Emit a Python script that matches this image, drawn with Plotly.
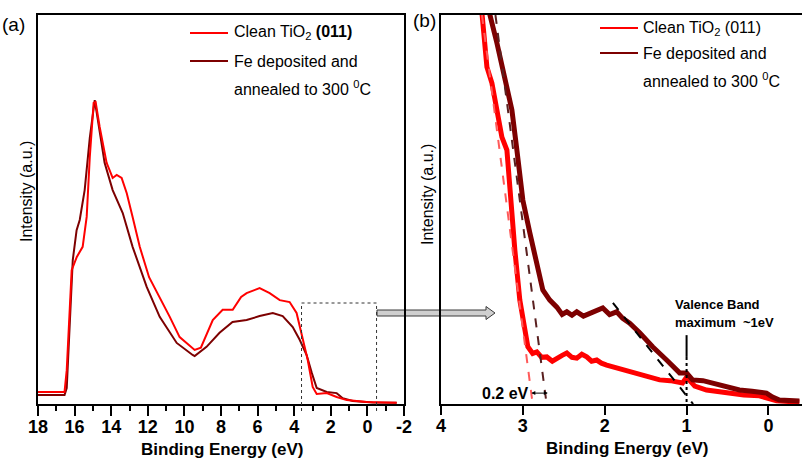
import plotly.graph_objects as go

W, H = 802, 459
FONT = "Liberation Sans, Arial, sans-serif"
RED = "#ff0000"
DARK = "#7d0000"

# ---------------- Panel (a): full valence band spectra ----------------
a_clean_energy = [18.0, 17.0, 16.55, 16.43, 16.16, 15.88, 15.56, 15.34, 15.17, 14.96, 14.85, 14.63,
                  14.25, 13.92, 13.70, 13.43, 13.15, 12.83, 12.44, 11.93, 11.35, 10.80, 10.26, 9.87,
                  9.44, 9.10, 8.79, 8.45, 7.91, 7.36, 6.90, 6.60, 5.89, 5.34, 4.79, 4.25, 3.87, 3.54,
                  3.26, 2.99, 2.77, 2.22, 1.68, 1.13, 0.04, -1.60]
a_clean_int = [3.1, 3.1, 3.1, 8.7, 34.4, 37.8, 40.4, 48.1, 63.5, 77.4, 77.6, 71.2,
               62.0, 58.1, 58.9, 58.1, 54.2, 48.1, 40.4, 32.6, 27.5, 22.4, 17.2, 15.7,
               13.9, 14.5, 17.7, 21.6, 24.2, 24.2, 27.5, 28.5, 29.8, 28.5, 26.7, 26.2, 23.4, 17.2,
               11.3, 4.4, 2.6, 2.8, 1.8, 1.0, 0.5, 0.3]

a_fe_energy = [18.0, 17.0, 16.55, 16.43, 16.27, 16.10, 15.89, 15.72, 15.45, 15.17, 14.90, 14.63,
               14.36, 13.92, 13.37, 12.83, 12.06, 11.35, 10.42, 9.55, 9.44, 8.79, 8.08, 7.37,
               6.60, 5.89, 5.17, 4.63, 4.08, 3.70, 3.32, 3.04, 2.77, 2.22, 1.68, 1.35, 0.80,
               -0.29, -1.60]
a_fe_int = [2.3, 2.3, 2.3, 4.1, 21.6, 37.0, 44.7, 47.3, 55.0, 68.4, 78.1, 69.7,
            62.0, 55.0, 49.1, 40.4, 30.1, 22.4, 15.7, 12.6, 12.3, 14.7, 18.3, 21.1,
            21.6, 22.6, 23.4, 22.6, 19.8, 16.5, 12.6, 8.0, 4.1, 3.1, 2.8, 1.5, 0.8,
            0.4, 0.3]

a_tick_vals = [18, 16, 14, 12, 10, 8, 6, 4, 2, 0, -2]
a_tick_text = ["18", "16", "14", "12", "10", "8", "6", "4", "2", "0", "-2"]

# zoom window marked in panel (a)
zoom_window_energy = [3.6, -0.5]

# ---------------- Panel (b): valence band edge ----------------
b_clean_energy = [3.55, 3.500, 3.439, 3.378, 3.317, 3.256, 3.195, 3.159, 3.098, 3.037, 2.976, 2.939,
                  2.880, 2.829, 2.770, 2.707, 2.640, 2.585, 2.520, 2.463, 2.400, 2.341, 2.280, 2.220,
                  2.160, 2.098, 2.040, 1.976, 1.854, 1.780, 1.695, 1.620, 1.537, 1.430, 1.329, 1.200,
                  1.049, 1.000, 0.900, 0.756, 0.600, 0.439, 0.300, 0.110, 0.000, -0.100, -0.378]
b_clean_int = [112, 100, 86.6, 82.5, 75.6, 68.6, 65.3, 54.2, 39.6, 26.7, 18.3, 14.7,
               13.0, 13.4, 12.0, 12.1, 11.0, 11.8, 12.5, 13.1, 12.0, 11.8, 12.8, 12.1,
               11.0, 11.3, 10.5, 10.0, 9.3, 9.0, 8.2, 8.0, 7.5, 6.8, 6.2, 6.0,
               5.4, 6.9, 4.6, 3.6, 3.1, 2.6, 2.3, 2.1, 1.3, 0.8, 0.5]

b_fe_energy = [3.45, 3.402, 3.317, 3.256, 3.195, 3.134, 3.073, 3.000, 2.915, 2.829, 2.756, 2.671,
               2.585, 2.520, 2.463, 2.400, 2.341, 2.260, 2.183, 2.100, 2.024, 1.940, 1.854, 1.780,
               1.695, 1.573, 1.415, 1.244, 1.085, 1.000, 0.927, 0.800, 0.683, 0.500, 0.354, 0.200,
               0.024, -0.050, -0.134, -0.378]
b_fe_int = [108, 100, 92.8, 86.6, 81.5, 75.6, 65.3, 52.4, 44.0, 35.2, 29.3, 26.7,
            24.9, 23.0, 23.7, 22.8, 23.7, 22.6, 23.4, 24.0, 24.7, 23.0, 23.7, 22.0,
            20.8, 18.3, 14.7, 11.3, 8.0, 8.0, 6.2, 6.0, 5.4, 4.4, 3.6, 3.3,
            2.8, 1.8, 1.0, 0.8]

# linear edge extrapolations
clean_fit_energy = [3.50, 2.88]
clean_fit_int = [100, 0]
fe_fit_energy = [3.335, 2.71]
fe_fit_int = [100, 0]
vbm_fit_energy = [1.90, 0.92]
vbm_fit_int = [26.0, 0]
vbm_marker_energy = [1.0, 1.0]
vbm_marker_solid = [17.7, 12.1]
vbm_marker_dotted = [12.1, 0.5]

b_tick_vals = [4, 3, 2, 1, 0]
b_tick_text = ["4", "3", "2", "1", "0"]

shift_arrow_energy = [2.915, 2.695]
shift_arrow_int = 2.8


def PX(x):
    return x / W


def PY(y):
    return (H - y) / H


fig = go.Figure()

# panel a
fig.add_trace(go.Scatter(x=a_fe_energy, y=a_fe_int, mode="lines",
                         line=dict(color=DARK, width=2), xaxis="x", yaxis="y"))
fig.add_trace(go.Scatter(x=a_clean_energy, y=a_clean_int, mode="lines",
                         line=dict(color=RED, width=2), xaxis="x", yaxis="y"))

# panel b
fig.add_trace(go.Scatter(x=b_clean_energy, y=b_clean_int, mode="lines",
                         line=dict(color=RED, width=5), xaxis="x2", yaxis="y2"))
fig.add_trace(go.Scatter(x=b_fe_energy, y=b_fe_int, mode="lines",
                         line=dict(color=DARK, width=5), xaxis="x2", yaxis="y2"))
fig.add_trace(go.Scatter(x=clean_fit_energy, y=clean_fit_int, mode="lines",
                         line=dict(color="#ff5a5a", width=2, dash="dash"), xaxis="x2", yaxis="y2"))
fig.add_trace(go.Scatter(x=fe_fit_energy, y=fe_fit_int, mode="lines",
                         line=dict(color="#5a2020", width=2, dash="dash"), xaxis="x2", yaxis="y2"))
fig.add_trace(go.Scatter(x=vbm_fit_energy, y=vbm_fit_int, mode="lines",
                         line=dict(color="black", width=2, dash="dash"), xaxis="x2", yaxis="y2"))
fig.add_trace(go.Scatter(x=vbm_marker_energy, y=vbm_marker_solid, mode="lines",
                         line=dict(color="black", width=2), xaxis="x2", yaxis="y2"))
fig.add_trace(go.Scatter(x=vbm_marker_energy, y=vbm_marker_dotted, mode="lines",
                         line=dict(color="black", width=2, dash="dot"), xaxis="x2", yaxis="y2"))

ydom = [PY(404), PY(15)]
axis_line = dict(showline=True, linecolor="black", linewidth=1.5, showgrid=False,
                 zeroline=False, automargin=False)
tickfont = dict(family=FONT, size=18, color="black", weight="bold")

fig.update_layout(
    template="none",
    width=W, height=H, margin=dict(l=0, r=0, t=0, b=0, pad=0),
    paper_bgcolor="white", plot_bgcolor="white", showlegend=False,
    xaxis=dict(domain=[PX(38), PX(404)], range=[18, -2], anchor="y",
               tickmode="array", tickvals=a_tick_vals, ticktext=a_tick_text,
               ticks="outside", ticklen=10, tickwidth=1.5, tickcolor="black",
               tickfont=tickfont, mirror=True, ticklabelstandoff=-4,
               minor=dict(tickmode="linear", tick0=1, dtick=1, ticks="outside", ticklen=5,
                          tickwidth=1.5, tickcolor="black", showgrid=False),
               **axis_line),
    yaxis=dict(domain=ydom, range=[0, 100], anchor="x", showticklabels=False, ticks="",
               mirror=True, **axis_line),
    xaxis2=dict(domain=[PX(441), 1.0], range=[4, -0.41], anchor="y2",
                tickmode="array", tickvals=b_tick_vals, ticktext=b_tick_text,
                ticks="outside", ticklen=9, tickwidth=1.5, tickcolor="black",
                tickfont=tickfont, mirror=True, ticklabelstandoff=-4, **axis_line),
    yaxis2=dict(domain=ydom, range=[0, 100], anchor="x2", showticklabels=False, ticks="",
                mirror=False, **axis_line),
)

shapes = []
# dashed zoom window in panel (a)
x0, x1 = zoom_window_energy
shapes.append(dict(type="path", xref="x", yref="paper",
                   path=f"M {x0},{PY(411)} L {x0},{PY(303)} L {x1},{PY(303)} L {x1},{PY(411)}",
                   line=dict(color="#333333", width=1, dash="dot"), layer="above"))
# block arrow from panel (a) to panel (b)
ax0, ax1, hx = 377, 486, 495
yc = 313
arrow_path = (f"M {PX(ax0)},{PY(yc-3)} L {PX(ax1)},{PY(yc-3)} L {PX(ax1)},{PY(yc-6.5)} "
              f"L {PX(hx)},{PY(yc)} L {PX(ax1)},{PY(yc+6.5)} L {PX(ax1)},{PY(yc+3)} "
              f"L {PX(ax0)},{PY(yc+3)} Z")
shapes.append(dict(type="path", xref="paper", yref="paper", path=arrow_path,
                   fillcolor="#cfcfcf", line=dict(color="#3a3a3a", width=1), layer="below"))
# legend swatches
for (lx0, lx1, ly, col) in [(190, 228, 33, RED), (190, 228, 61, DARK),
                            (600, 638, 28, RED), (600, 638, 53, DARK)]:
    shapes.append(dict(type="line", xref="paper", yref="paper",
                       x0=PX(lx0), x1=PX(lx1), y0=PY(ly), y1=PY(ly),
                       line=dict(color=col, width=2)))
fig.update_layout(shapes=shapes)

ann = []


def text(x, y, s, size=16, xanchor="left", angle=0, bold=False):
    ann.append(dict(x=PX(x), y=PY(y), xref="paper", yref="paper", text=s, showarrow=False,
                    xanchor=xanchor, yanchor="middle", textangle=angle,
                    font=dict(family=FONT, size=size, color="black",
                              weight="bold" if bold else "normal")))


# panel labels
text(0, 25, "(a)", size=19)
text(411, 21, "(b)", size=19)
# legend texts
text(232, 33, "Clean TiO<sub>2</sub> <b>(011)</b>")
text(232, 61, "Fe deposited and")
text(232, 88, "annealed to 300 <sup>0</sup>C")
text(641, 28, "Clean TiO<sub>2</sub> (011)")
text(641, 53, "Fe deposited and")
text(641, 80, "annealed to 300 <sup>0</sup>C")
# axis titles
text(222, 449, "Binding Energy (eV)", size=17, xanchor="center", bold=True)
text(627, 448, "Binding Energy (eV)", size=17, xanchor="center", bold=True)
text(27, 192, "Intensity (a.u.)", size=16, xanchor="center", angle=-90)
text(427, 195, "Intensity (a.u.)", size=16, xanchor="center", angle=-90)
# panel b annotations
text(673, 305, "Valence Band", size=13, bold=True)
text(673, 322, "maximum  ~1eV", size=13, bold=True)
text(531, 393, "0.2 eV", size=16, xanchor="right", bold=True)

ann.append(dict(x=shift_arrow_energy[1], y=shift_arrow_int, xref="x2", yref="y2",
                ax=shift_arrow_energy[0], ay=shift_arrow_int, axref="x2", ayref="y2",
                text="", showarrow=True, arrowhead=2, arrowside="end+start",
                arrowsize=0.8, arrowwidth=1, arrowcolor="black"))
fig.update_layout(annotations=ann)

fig.write_html(
    "out.html",
    config={"displayModeBar": False},
    post_script="document.body.style.margin='0';document.body.style.padding='0';"
                "document.body.style.overflow='hidden';",
)
